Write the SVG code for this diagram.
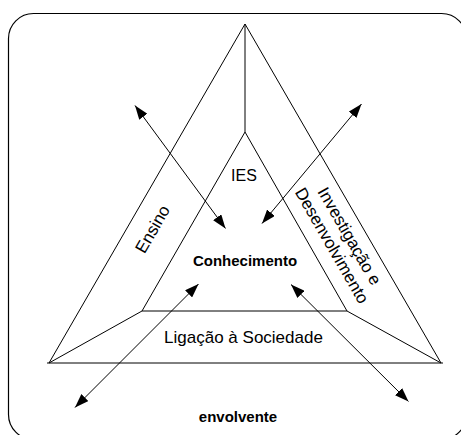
<svg xmlns="http://www.w3.org/2000/svg" width="461" height="435" viewBox="0 0 461 435">
  <defs>
    <style>
      .ln { fill: none; stroke: #000; stroke-width: 1; }
      .frame { fill: none; stroke: #000; stroke-width: 1.2; }
      .lbl { font-family: "Liberation Sans", Arial, sans-serif; font-size: 17px; fill: #000; text-anchor: middle; }
      .bold { font-weight: bold; font-size: 15px; }
      .arrow { fill: none; stroke: #000; stroke-width: 1; marker-start: url(#head); marker-end: url(#head); }
    </style>
    <marker id="head" viewBox="0 0 14 10" markerWidth="14" markerHeight="10" refX="14" refY="5" markerUnits="userSpaceOnUse" orient="auto-start-reverse">
      <path d="M0,0 L14,5 L0,10 Z" fill="#000"/>
    </marker>
  </defs>
  <rect width="461" height="435" fill="#fff"/>

  <!-- surrounding frame -->
  <rect id="frame" class="frame" x="8.5" y="13.5" width="458" height="426" rx="25" ry="25"/>

  <!-- outer triangle split into three bands around the inner triangle -->
  <g id="ensino">
    <path class="ln" d="M245,24 L49,363 M245,132 L142,311 M49,363 L142,311"/>
    <text class="lbl" transform="translate(157.5,232) rotate(-60)">Ensino</text>
  </g>
  <g id="investigacao">
    <path class="ln" d="M245,24 L441,363 M245,132 L347,311 M441,363 L347,311 M245,24 L245,132"/>
    <text class="lbl" transform="translate(344.5,239) rotate(60)">Investigação e</text>
    <text class="lbl" transform="translate(327,248.5) rotate(60)">Desenvolvimento</text>
  </g>
  <g id="ligacao">
    <path class="ln" d="M142,311 L347,311 M47,363 L443,363"/>
    <text class="lbl" x="243.5" y="343">Ligação à Sociedade</text>
  </g>
  <g id="ies">
    <text class="lbl" x="244" y="180.5" style="font-size:16px">IES</text>
  </g>
  <g id="conhecimento">
    <text class="lbl bold" x="245" y="265.5">Conhecimento</text>
  </g>
  <g id="envolvente">
    <text class="lbl bold" x="238" y="422">envolvente</text>
  </g>

  <!-- exchange arrows between knowledge and the environment -->
  <g id="connectors">
    <line class="arrow" x1="135" y1="105.5" x2="225.5" y2="228.5"/>
    <line class="arrow" x1="361.5" y1="104" x2="262" y2="223.5"/>
    <line class="arrow" x1="198.5" y1="284" x2="75" y2="407.5"/>
    <line class="arrow" x1="291" y1="284.5" x2="408.5" y2="401.5"/>
  </g>
</svg>
